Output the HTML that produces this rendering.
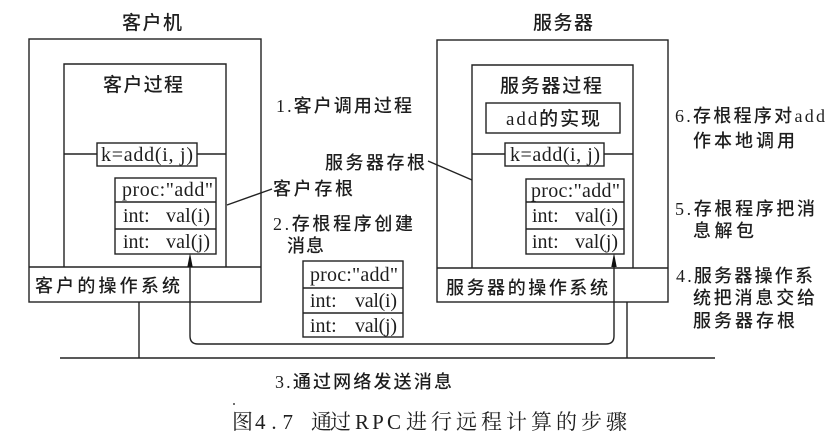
<!DOCTYPE html>
<html><head><meta charset="utf-8"><style>
html,body{margin:0;padding:0;background:#fff;}
svg{display:block;}
text{fill:#1e1e1e;font-family:"Liberation Serif","Noto Sans CJK SC",sans-serif;}
.cj{font-size:18px;font-weight:500;}
.lt{font-size:20px;font-family:"Liberation Serif",serif;}
.cap{font-family:"Liberation Serif","Noto Serif CJK SC",serif;font-size:21px;}
</style></head><body>
<svg width="840" height="442" viewBox="0 0 840 442" xmlns="http://www.w3.org/2000/svg">
<g fill="none" stroke="#222" stroke-width="1.4">
  <!-- client -->
  <rect x="29" y="39" width="232" height="263"/>
  <line x1="29" y1="267" x2="261" y2="267"/>
  <polyline points="64,267 64,64 226,64 226,267"/>
  <rect x="97" y="143" width="100" height="23"/>
  <line x1="64" y1="154" x2="97" y2="154"/>
  <line x1="197" y1="154" x2="226" y2="154"/>
  <rect x="115" y="178" width="101" height="76"/>
  <line x1="115" y1="202" x2="216" y2="202"/>
  <line x1="115" y1="229" x2="216" y2="229"/>
  <line x1="227" y1="205" x2="272" y2="189"/>
  <line x1="139" y1="302" x2="139" y2="358"/>
  <!-- server -->
  <rect x="437" y="40" width="231" height="262"/>
  <line x1="437" y1="268" x2="668" y2="268"/>
  <polyline points="472,268 472,65 633,65 633,268"/>
  <rect x="486" y="103" width="134" height="30"/>
  <rect x="505" y="143" width="99" height="23"/>
  <line x1="472" y1="154" x2="505" y2="154"/>
  <line x1="604" y1="154" x2="633" y2="154"/>
  <rect x="526" y="179" width="98" height="75"/>
  <line x1="526" y1="202" x2="624" y2="202"/>
  <line x1="526" y1="229" x2="624" y2="229"/>
  <line x1="428" y1="161" x2="472" y2="180"/>
  <line x1="627" y1="302" x2="627" y2="358"/>
  <!-- message box -->
  <rect x="303" y="261" width="100" height="76"/>
  <line x1="303" y1="288" x2="403" y2="288"/>
  <line x1="303" y1="313" x2="403" y2="313"/>
  <!-- network -->
  <line x1="60" y1="358" x2="715" y2="358"/>
  <!-- loop -->
  <path d="M190,262 V336 Q190,344 198,344 H606 Q614,344 614,336 V262"/>
</g>
<polygon points="190,253 187.3,267 192.7,267" fill="#111"/>
<polygon points="614,253 611.3,267 616.7,267" fill="#111"/>
<circle cx="234" cy="404" r="1" fill="#444"/>

<!-- titles -->
<text class="cj" x="122" y="29" textLength="60" lengthAdjust="spacing" style="font-size:19px">客户机</text>
<text class="cj" x="533" y="29" textLength="60" lengthAdjust="spacing" style="font-size:19px">服务器</text>
<text class="cj" x="103" y="91" textLength="80" lengthAdjust="spacing" style="font-size:19px">客户过程</text>
<text class="cj" x="500" y="92" textLength="102" lengthAdjust="spacing" style="font-size:19px">服务器过程</text>
<text class="cj" x="506" y="125" textLength="94" lengthAdjust="spacing" style="font-size:19px">add的实现</text>

<!-- k=add -->
<text class="lt" x="101" y="161" textLength="92" lengthAdjust="spacing">k=add(i, j)</text>
<text class="lt" x="510" y="161" textLength="90" lengthAdjust="spacing">k=add(i, j)</text>

<!-- client stub -->
<text class="lt" x="122" y="196" textLength="91" lengthAdjust="spacing">proc:"add"</text>
<text class="lt" x="123" y="222">int:</text>
<text class="lt" x="166" y="222" textLength="44" lengthAdjust="spacing">val(i)</text>
<text class="lt" x="123" y="248">int:</text>
<text class="lt" x="166" y="248" textLength="44" lengthAdjust="spacing">val(j)</text>

<!-- server stub -->
<text class="lt" x="531" y="197" textLength="89" lengthAdjust="spacing">proc:"add"</text>
<text class="lt" x="532" y="222">int:</text>
<text class="lt" x="575" y="222" textLength="43" lengthAdjust="spacing">val(i)</text>
<text class="lt" x="532" y="248">int:</text>
<text class="lt" x="575" y="248" textLength="43" lengthAdjust="spacing">val(j)</text>

<!-- message box -->
<text class="lt" x="310" y="281" textLength="88" lengthAdjust="spacing">proc:"add"</text>
<text class="lt" x="310" y="307">int:</text>
<text class="lt" x="355" y="307" textLength="42" lengthAdjust="spacing">val(i)</text>
<text class="lt" x="310" y="332">int:</text>
<text class="lt" x="355" y="332" textLength="42" lengthAdjust="spacing">val(j)</text>

<!-- OS -->
<text class="cj" x="35" y="292" textLength="145" lengthAdjust="spacing">客户的操作系统</text>
<text class="cj" x="446" y="294" textLength="162" lengthAdjust="spacing">服务器的操作系统</text>

<!-- middle labels -->
<text class="cj" x="276" y="112" textLength="136" lengthAdjust="spacing">1.客户调用过程</text>
<text class="cj" x="325" y="169" textLength="100" lengthAdjust="spacing">服务器存根</text>
<text class="cj" x="273" y="195" textLength="80" lengthAdjust="spacing">客户存根</text>
<text class="cj" x="273" y="230" textLength="140" lengthAdjust="spacing">2.存根程序创建</text>
<text class="cj" x="287" y="252" textLength="37" lengthAdjust="spacing">消息</text>

<!-- right labels -->
<text class="cj" x="675" y="122" textLength="150" lengthAdjust="spacing">6.存根程序对add</text>
<text class="cj" x="693" y="147" textLength="102" lengthAdjust="spacing">作本地调用</text>
<text class="cj" x="675" y="215" textLength="140" lengthAdjust="spacing">5.存根程序把消</text>
<text class="cj" x="693" y="237" textLength="61" lengthAdjust="spacing">息解包</text>
<text class="cj" x="676" y="282" textLength="137" lengthAdjust="spacing">4.服务器操作系</text>
<text class="cj" x="693" y="304" textLength="122" lengthAdjust="spacing">统把消息交给</text>
<text class="cj" x="693" y="327" textLength="102" lengthAdjust="spacing">服务器存根</text>

<!-- bottom -->
<text class="cj" x="275" y="388" textLength="177" lengthAdjust="spacing">3.通过网络发送消息</text>
<text class="cap" x="232" y="429">图</text>
<text class="cap" x="255" y="429" textLength="38" lengthAdjust="spacing">4.7</text>
<text class="cap" x="311" y="429" textLength="40" lengthAdjust="spacing">通过</text>
<text class="cap" x="355" y="429" textLength="46" lengthAdjust="spacing">RPC</text>
<text class="cap" x="406" y="429" textLength="221" lengthAdjust="spacing">进行远程计算的步骤</text>
</svg>
</body></html>
